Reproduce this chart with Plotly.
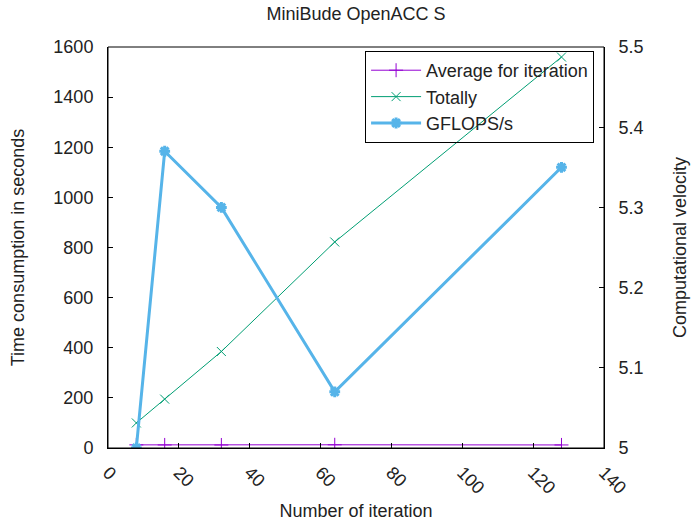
import plotly.graph_objects as go

iterations = [8, 16, 32, 64, 128]
totally = [100, 195, 385, 822, 1560]
average = [12.5, 12.2, 12.0, 12.8, 12.2]
gflops = [5.0, 5.37, 5.30, 5.07, 5.35]

FONT = "Liberation Sans, Arial, sans-serif"
FS = 18
TXT = "#222222"

fig = go.Figure()
fig.add_trace(go.Scatter(
    x=iterations, y=average, name="Average for iteration", mode="lines+markers",
    line=dict(color="#9400d3", width=1),
    marker=dict(symbol="cross-thin-open", size=10, line=dict(color="#9400d3", width=1)),
))
fig.add_trace(go.Scatter(
    x=iterations, y=totally, name="Totally", mode="lines+markers",
    line=dict(color="#009e73", width=1),
    marker=dict(symbol="x-thin-open", size=9, line=dict(color="#009e73", width=1)),
))
fig.add_trace(go.Scatter(
    x=iterations, y=gflops, name="GFLOPS/s", mode="lines+markers", yaxis="y2",
    line=dict(color="#56b4e9", width=3),
    marker=dict(symbol="asterisk-open", size=9, line=dict(color="#56b4e9", width=3)),
))

axis_common = dict(
    showline=True, linecolor="black", linewidth=1, mirror=False, automargin=False,
    ticks="inside", ticklen=5, tickcolor="black", showgrid=False, zeroline=False,
    tickfont=dict(family=FONT, size=FS, color=TXT),
)

fig.update_layout(
    width=692, height=521,
    margin=dict(l=108, r=88, t=47, b=73),
    paper_bgcolor="white", plot_bgcolor="white",
    font=dict(family=FONT, size=FS, color=TXT),
    title=dict(text="MiniBude OpenACC S", x=0.5, xref="paper",
               y=1 - 14 / 521, yanchor="middle", xanchor="center",
               font=dict(family=FONT, size=FS, color=TXT)),
    xaxis=dict(range=[0, 140], dtick=20, tick0=0, tickangle=45,
               title=dict(text="Number of iteration", standoff=10,
                          font=dict(family=FONT, size=FS, color=TXT)),
               ticklabelstandoff=6, **axis_common),
    yaxis=dict(range=[0, 1600], dtick=200, tick0=0,
               title=dict(text="Time consumption in seconds", standoff=24,
                          font=dict(family=FONT, size=FS, color=TXT)),
               ticklabelstandoff=10, **axis_common),
    yaxis2=dict(range=[5, 5.5], dtick=0.1, tick0=5, overlaying="y", side="right",
                title=dict(text="Computational velocity", standoff=30,
                           font=dict(family=FONT, size=FS, color=TXT)),
                ticklabelstandoff=10, **axis_common),
    showlegend=True,
    legend=dict(x=0.98, y=0.99, xanchor="right", yanchor="top",
                bgcolor="rgba(0,0,0,0)", bordercolor="black", borderwidth=1,
                font=dict(family=FONT, size=FS, color=TXT),
                tracegroupgap=0, itemwidth=50),
)
fig.add_shape(type="rect", xref="paper", yref="paper", x0=0, y0=0, x1=1, y1=1,
              line=dict(color="black", width=1), layer="above")

fig.write_html("out.html")
